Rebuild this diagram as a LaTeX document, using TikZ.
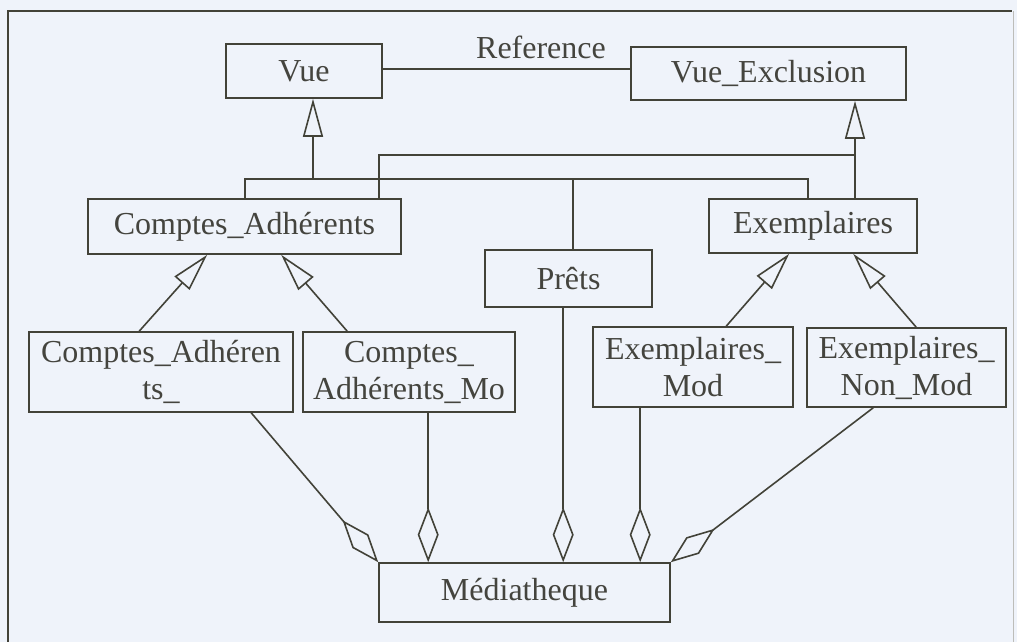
\documentclass[tikz,border=0pt]{standalone}
\usepackage{fontspec}
\setmainfont{Liberation Serif}
\usetikzlibrary{arrows.meta,calc}
\definecolor{bg}{RGB}{239,243,250}
\definecolor{ink}{RGB}{66,66,56}
\definecolor{txt}{RGB}{68,68,62}
\begin{document}
\begin{tikzpicture}[x=1pt,y=-1pt,
  cls/.style={draw=ink,line width=1.6pt,fill=bg,text=txt,inner sep=0pt,align=center,
    font=\fontsize{32}{37}\selectfont},
  ln/.style={draw=ink,line width=1.6pt},
  gen/.style={ln,-{Triangle[open,length=38pt,width=20pt,line width=1.6pt]}},
  agg/.style={ln,-{Diamond[open,length=55pt,width=21pt,line width=1.6pt]}},
  lbl/.style={text=txt,inner sep=0pt,font=\fontsize{32}{37}\selectfont}]
\useasboundingbox (0,0) rectangle (1017,642);
\fill[bg] (0,0) rectangle (1017,642);
% frame
\draw[ink,line width=1.8pt] (8,642) -- (8,11) -- (1012,11);
\draw[ink!35,line width=1pt] (1013,11) -- (1013,642);

% classes
\node[cls,minimum width=156pt,minimum height=54pt] (vue) at (304,71) {Vue};
\node[cls,minimum width=275pt,minimum height=53pt] (vueex) at (768.5,73.5) {Vue\_Exclusion};
\node[cls,minimum width=313pt,minimum height=55pt] (ca) at (244.5,226.5) {Comptes\_Adhérents};
\node[cls,minimum width=167pt,minimum height=57pt] (prets) at (568.5,278.5) {Prêts};
\node[cls,minimum width=208pt,minimum height=54pt] (ex) at (813,226) {Exemplaires};
\node[cls,minimum width=264pt,minimum height=80pt] (ca1) at (161,372) {Comptes\_Adhéren\\ts\_};
\node[cls,minimum width=212pt,minimum height=80pt] (ca2) at (409,372) {Comptes\_\\Adhérents\_Mo};
\node[cls,minimum width=200pt,minimum height=80pt] (em) at (693,367) {Exemplaires\_\\Mod};
\node[cls,minimum width=199pt,minimum height=79pt] (enm) at (906.5,367.5) {Exemplaires\_\\Non\_Mod};
\node[cls,minimum width=291pt,minimum height=59pt] (med) at (524.5,592.5) {Médiatheque};

% association Reference
\node[lbl] (ref) at (541,47) {Reference};
\draw[ln] ($(vue.east)+(0,-2)$) -- ($(vueex.west)+(0,-4.5)$);

% generalisation tree to Vue
\coordinate (jv) at (313,179);
\coordinate (h1a) at (245,179);
\coordinate (h1b) at (808,179);
\coordinate (hp) at (573,179);
\draw[ln] (ca.north -| h1a) -- (h1a) -- (h1b) -- (ex.north -| h1b);
\draw[ln] (hp) -- (prets.north -| hp);
\draw[gen] (jv) -- (vue.south -| jv);

% generalisation tree to Vue_Exclusion
\coordinate (h2a) at (379,155);
\coordinate (h2b) at (855,155);
\draw[ln] (ca.north -| h2a) -- (h2a) -- (h2b);
\draw[gen] (ex.north -| h2b) -- (vueex.south -| h2b);

% sub-classes
\draw[gen] ($(ca1.north west)+(111,0)$) -- ($(ca.south west)+(120,0)$);
\draw[gen] ($(ca2.north west)+(45,0)$) -- ($(ca.south west)+(194,0)$);
\draw[gen] ($(em.north west)+(134,0)$) -- ($(ex.south west)+(81,0)$);
\draw[gen] ($(enm.north west)+(110,0)$) -- ($(ex.south west)+(145,0)$);

% aggregations
\draw[agg] ($(ca1.south west)+(223,0)$) -- (med.north west);
\draw[agg] ($(ca2.south west)+(126,0)$) -- ($(med.north west)+(50,0)$);
\draw[agg] ($(prets.south west)+(79,0)$) -- ($(med.north west)+(185,0)$);
\draw[agg] ($(em.south west)+(48,0)$) -- ($(med.north west)+(262,0)$);
\draw[agg] ($(enm.south west)+(67,0)$) -- (med.north east);
\end{tikzpicture}
\end{document}
